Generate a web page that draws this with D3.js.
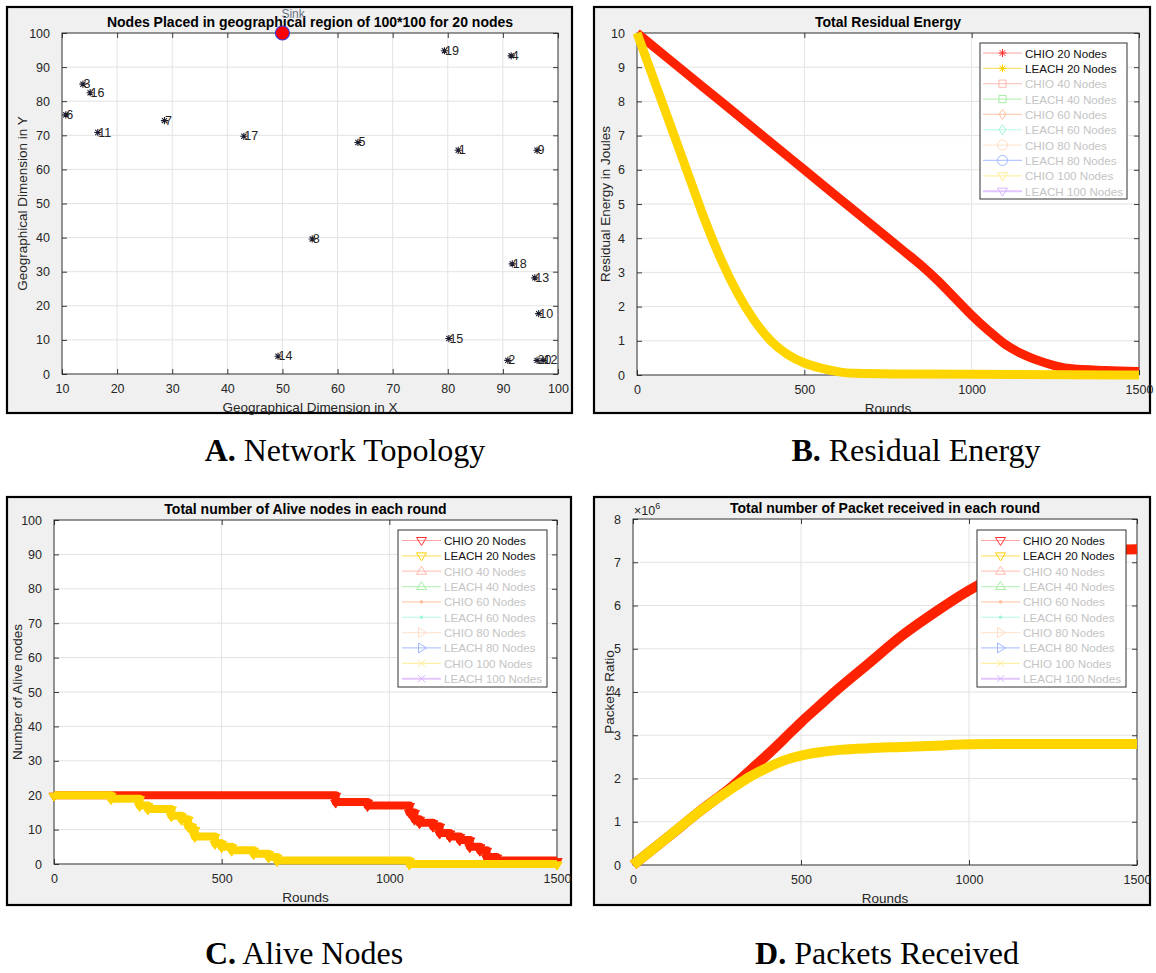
<!DOCTYPE html>
<html><head><meta charset="utf-8">
<script src="https://cdn.jsdelivr.net/npm/d3@7"></script>
<style>body{margin:0;background:#fff}svg{display:block}</style>
</head><body>
<svg id="fig" width="1156" height="973"></svg>
<script>
// ---------------- data ----------------
// Panel A: sensor node positions in the 100x100 field
const nodeIds = [1,2,3,4,5,6,7,8,9,10,11,12,13,14,15,16,17,18,19,20];
const nodeX = [81.9,90.9,13.8,91.5,63.7,10.7,28.6,55.4,96.2,96.5,16.5,97.3,95.8,49.2,80.2,15.1,43.0,91.7,79.4,96.2];
const nodeY = [65.6,4.0,85.0,93.3,67.9,76.0,74.3,39.6,65.6,17.7,70.8,4.0,28.2,5.2,10.4,82.5,69.7,32.3,94.8,4.0];
const sinkX = 50, sinkY = 100;

// Panel B: total residual energy (J) per round
const energyChioRounds = [0,100,200,300,400,500,600,700,800,850,900,950,1000,1050,1100,1150,1200,1250,1300,1400,1500];
const energyChio       = [10,9.2,8.4,7.6,6.8,6.0,5.2,4.4,3.6,3.2,2.75,2.25,1.75,1.3,0.9,0.62,0.42,0.27,0.18,0.13,0.1];
const energyLeachRounds = [0,50,100,150,200,250,300,350,400,450,500,550,600,650,800,1000,1500];
const energyLeach       = [10,8.65,7.3,5.95,4.6,3.4,2.4,1.6,1.0,0.6,0.35,0.2,0.1,0.05,0.03,0.02,0];

// Panel C: alive nodes per round (value holds until next round listed)
const aliveChioRounds = [0,840,935,1060,1075,1090,1130,1150,1180,1210,1240,1270,1290,1320,1500];
const aliveChio       = [20,18,17,15,13,12,11,9,8,7,5,4,2,1,1];
const aliveLeachRounds = [0,170,255,280,350,380,400,410,420,480,500,530,595,640,665,1060,1500];
const aliveLeach       = [20,19,17,16,14,13,11,10,8,6,5,4,3,2,1,0,0];

// Panel D: cumulative packets received (x 10^6)
const packetRounds = [0,100,200,300,350,400,450,500,550,600,700,800,900,1000,1100,1200,1300,1400,1500];
const packetsChio  = [0,0.62,1.25,1.85,2.2,2.55,2.92,3.3,3.65,4.0,4.65,5.3,5.85,6.35,6.75,7.0,7.18,7.27,7.3];
const packetsLeach = [0,0.62,1.25,1.8,2.05,2.25,2.42,2.53,2.6,2.65,2.7,2.73,2.76,2.79,2.8,2.8,2.8,2.8,2.8];

// Legends
const legendLabels = ["CHIO 20 Nodes","LEACH 20 Nodes","CHIO 40 Nodes","LEACH 40 Nodes","CHIO 60 Nodes",
  "LEACH 60 Nodes","CHIO 80 Nodes","LEACH 80 Nodes","CHIO 100 Nodes","LEACH 100 Nodes"];
const legendLineColors = ["#ffa3a3","#ffe372","#ffc9bf","#bff2bf","#ffcdb3","#b6fbe6","#ffe7d6","#b5c8ff","#fff0a8","#e3c6ff"];
const legendMarkColors = ["#ff3030","#ffd000","#ffb8ad","#a6eca6","#ffc09e","#9ff7dc","#ffdcc4","#9fb8ff","#ffea94","#d9b3ff"];
const energyMarkers = ["*","*","s","s","d","d","o","o","v","v"];
const nodeMarkers   = ["v","v","^","^",".",".",">",">","x","x"];

const xTicksRounds = [0,500,1000,1500];

// ---------------- drawing ----------------
const RED = "#ff2200", GOLD = "#ffd500";
const INK = "#262626";
const SANS = "'Liberation Sans', Arial, Helvetica, sans-serif";
const svg = d3.select("#fig");

function markerPath(t, r) {
  const k = r * 0.72;
  switch (t) {
    case "*": return `M${-r},0H${r}M0,${-r}V${r}M${-k},${-k}L${k},${k}M${-k},${k}L${k},${-k}`;
    case "x": return `M${-k},${-k}L${k},${k}M${-k},${k}L${k},${-k}`;
    case "s": return `M${-k},${-k}H${k}V${k}H${-k}Z`;
    case "d": return `M0,${-r}L${r*0.7},0L0,${r}L${-r*0.7},0Z`;
    case "o": return `M${r},0A${r},${r} 0 1 1 ${-r},0A${r},${r} 0 1 1 ${r},0Z`;
    case "v": return `M${-r},${-r*0.6}H${r}L0,${r}Z`;
    case "^": return `M${-r},${r*0.6}H${r}L0,${-r}Z`;
    case ">": return `M${-r*0.6},${-r}L${r},0L${-r*0.6},${r}Z`;
    case ".": return `M1.3,0A1.3,1.3 0 1 1 -1.3,0A1.3,1.3 0 1 1 1.3,0Z`;
  }
}

function panel(cfg) {
  const g = svg.append("g");
  const [fx, fy, fw, fh] = cfg.frame;
  const [l, t, r, b] = cfg.plot;
  g.append("rect").attr("x", fx).attr("y", fy).attr("width", fw).attr("height", fh)
    .attr("fill", "#f0f0f0").attr("stroke", "#000").attr("stroke-width", 2.2);
  g.append("rect").attr("x", l).attr("y", t).attr("width", r - l).attr("height", b - t).attr("fill", "#fff");

  const x = d3.scaleLinear().domain(cfg.xd).range([l, r]);
  const y = d3.scaleLinear().domain(cfg.yd).range([b, t]);

  // grid
  const grid = g.append("g").attr("stroke", "#e3e3e3").attr("stroke-width", 1);
  cfg.xt.forEach(v => grid.append("line").attr("x1", x(v)).attr("x2", x(v)).attr("y1", t).attr("y2", b));
  cfg.yt.forEach(v => grid.append("line").attr("x1", l).attr("x2", r).attr("y1", y(v)).attr("y2", y(v)));

  const styleAxis = sel => {
    sel.select(".domain").remove();
    sel.selectAll("line").attr("stroke", INK).attr("stroke-width", 0.9);
    sel.selectAll("text").attr("fill", INK).style("font-family", SANS).style("font-size", "12.5px");
  };
  g.append("g").attr("transform", `translate(0,${b})`)
    .call(d3.axisBottom(x).tickValues(cfg.xt).tickSize(-5).tickPadding(10).tickFormat(d3.format("d")))
    .call(styleAxis);
  g.append("g").attr("transform", `translate(0,${t})`)
    .call(d3.axisTop(x).tickValues(cfg.xt).tickSize(-5).tickFormat(""))
    .call(styleAxis);
  g.append("g").attr("transform", `translate(${l},0)`)
    .call(d3.axisLeft(y).tickValues(cfg.yt).tickSize(-5).tickPadding(12).tickFormat(d3.format("d")))
    .call(styleAxis);
  g.append("g").attr("transform", `translate(${r},0)`)
    .call(d3.axisRight(y).tickValues(cfg.yt).tickSize(-5).tickFormat(""))
    .call(styleAxis);

  g.append("text").attr("x", (l + r) / 2).attr("y", t - 6).attr("text-anchor", "middle")
    .style("font-family", SANS).style("font-size", "14px").style("font-weight", "bold").attr("fill", "#000")
    .text(cfg.title);
  g.append("text").attr("x", (l + r) / 2).attr("y", b + 38).attr("text-anchor", "middle")
    .style("font-family", SANS).style("font-size", "13.5px").attr("fill", INK).text(cfg.xLabel);
  g.append("text").attr("transform", `translate(${cfg.yLabelX},${(t + b) / 2}) rotate(-90)`)
    .attr("text-anchor", "middle").attr("dominant-baseline", "central")
    .style("font-family", SANS).style("font-size", "13.5px").attr("fill", INK).text(cfg.yLabel);

  const plotG = svg.append("g");
  g.append("rect").attr("x", l).attr("y", t).attr("width", r - l).attr("height", b - t)
    .attr("fill", "none").attr("stroke", INK).attr("stroke-width", 0.9);
  return { g: plotG, x, y };
}

function legend(box, rowX, rowY0, markers) {
  const [bx, by, bw, bh] = box;
  const g = svg.append("g");
  g.append("rect").attr("x", bx).attr("y", by).attr("width", bw).attr("height", bh)
    .attr("fill", "#fff").attr("stroke", "#333").attr("stroke-width", 1);
  const step = 15.35;
  legendLabels.forEach((lab, i) => {
    const yy = rowY0 + i * step;
    g.append("line").attr("x1", rowX).attr("x2", rowX + 39).attr("y1", yy).attr("y2", yy)
      .attr("stroke", legendLineColors[i]).attr("stroke-width", i === 9 ? 2 : 1.2);
    const m = markers[i];
    g.append("path").attr("d", markerPath(m, m === "*" ? 4 : 5))
      .attr("transform", `translate(${rowX + 19.5},${yy})`)
      .attr("fill", m === "." ? legendMarkColors[i] : "none")
      .attr("stroke", legendMarkColors[i]).attr("stroke-width", 1);
    g.append("text").attr("x", rowX + 42).attr("y", yy).attr("dominant-baseline", "central")
      .style("font-family", SANS).style("font-size", "11.6px")
      .attr("fill", i < 2 ? "#111" : "#c4c4c4").text(lab);
  });
}

function thickLine(g, x, y, xs, ys, color, width, curve) {
  const pts = xs.map((v, i) => [v, ys[i]]);
  g.append("path").datum(pts)
    .attr("d", d3.line().x(d => x(d[0])).y(d => y(d[1])).curve(curve))
    .attr("fill", "none").attr("stroke", color).attr("stroke-width", width)
    .attr("stroke-linejoin", "round");
  return pts;
}

// ---------- Panel A: network topology ----------
const A = panel({
  frame: [7, 7, 565, 406], plot: [62, 33, 558, 374],
  xd: [10, 100], yd: [0, 100], xt: d3.range(10, 101, 10), yt: d3.range(0, 101, 10),
  title: "Nodes Placed in geographical region of 100*100 for 20 nodes",
  xLabel: "Geographical Dimension in X", yLabel: "Geographical Dimension in Y", yLabelX: 22
});
nodeIds.forEach((id, i) => {
  const px = A.x(nodeX[i]), py = A.y(nodeY[i]);
  A.g.append("path").attr("d", markerPath("*", 3.6)).attr("transform", `translate(${px},${py})`)
    .attr("stroke", "#1c1c2e").attr("stroke-width", 1.1).attr("fill", "none");
  A.g.append("text").attr("x", px + 0.5).attr("y", py).attr("dominant-baseline", "central")
    .style("font-family", SANS).style("font-size", "12.5px").attr("fill", "#222").text(id);
});
A.g.append("text").attr("x", A.x(sinkX) - 1).attr("y", A.y(sinkY) - 15)
  .style("font-family", SANS).style("font-size", "12px").attr("fill", "#6a7488").text("Sink");
A.g.append("circle").attr("cx", A.x(sinkX)).attr("cy", A.y(sinkY)).attr("r", 7)
  .attr("fill", "#ff0000").attr("stroke", "#3b3bd6").attr("stroke-width", 1.2);

// ---------- Panel B: residual energy ----------
const B = panel({
  frame: [594, 7, 556, 406], plot: [637, 33, 1139, 375],
  xd: [0, 1500], yd: [0, 10], xt: xTicksRounds, yt: d3.range(0, 11, 1),
  title: "Total Residual Energy", xLabel: "Rounds", yLabel: "Residual Energy in Joules", yLabelX: 605
});
thickLine(B.g, B.x, B.y, energyChioRounds, energyChio, RED, 9, d3.curveMonotoneX);
thickLine(B.g, B.x, B.y, energyLeachRounds, energyLeach, GOLD, 9, d3.curveMonotoneX);
legend([980, 43, 147, 156], 983, 53, energyMarkers);

// ---------- Panel C: alive nodes ----------
const C = panel({
  frame: [7, 497, 564, 408], plot: [54, 520, 557, 864],
  xd: [0, 1500], yd: [0, 100], xt: xTicksRounds, yt: d3.range(0, 101, 10),
  title: "Total number of Alive nodes in each round", xLabel: "Rounds",
  yLabel: "Number of Alive nodes", yLabelX: 17
});
[[aliveChioRounds, aliveChio, RED], [aliveLeachRounds, aliveLeach, GOLD]].forEach(([xs, ys, col]) => {
  thickLine(C.g, C.x, C.y, xs, ys, col, 8, d3.curveStepAfter);
  xs.forEach((v, i) => {
    // markers at the corners of each step
    const pts = i > 0 ? [[v, ys[i - 1]], [v, ys[i]]] : [[v, ys[i]]];
    pts.forEach(p => C.g.append("path").attr("d", markerPath("v", 5))
      .attr("transform", `translate(${C.x(p[0])},${C.y(p[1]) + 1})`)
      .attr("fill", col).attr("stroke", col).attr("stroke-width", 1));
  });
});
legend([398, 530, 149, 157], 402, 540.5, nodeMarkers);

// ---------- Panel D: packets received ----------
const D = panel({
  frame: [594, 497, 556, 408], plot: [633, 519, 1137, 865],
  xd: [0, 1500], yd: [0, 8], xt: xTicksRounds, yt: d3.range(0, 9, 1),
  title: "Total number of Packet received in each round", xLabel: "Rounds",
  yLabel: "Packets Ratio", yLabelX: 609
});
thickLine(D.g, D.x, D.y, packetRounds, packetsChio, RED, 10, d3.curveMonotoneX);
thickLine(D.g, D.x, D.y, packetRounds, packetsLeach, GOLD, 10, d3.curveMonotoneX);
const expo = D.g.append("text").attr("x", 634).attr("y", 515)
  .style("font-family", SANS).style("font-size", "12.5px").attr("fill", INK);
expo.append("tspan").text("\u00d710");
expo.append("tspan").attr("dy", -6).style("font-size", "9px").text("6");
legend([977, 530, 149, 157], 981, 540.5, nodeMarkers);

// ---------- captions ----------
const captions = [
  { k: "A.", t: " Network Topology", x: 345, y: 461 },
  { k: "B.", t: " Residual Energy", x: 916, y: 461 },
  { k: "C.", t: " Alive Nodes", x: 304, y: 964 },
  { k: "D.", t: " Packets Received", x: 887, y: 964 }
];
captions.forEach(c => {
  const tx = svg.append("text").attr("x", c.x).attr("y", c.y).attr("text-anchor", "middle")
    .style("font-family", "'Liberation Serif', 'Times New Roman', serif").style("font-size", "32px").attr("fill", "#000");
  tx.append("tspan").style("font-weight", "bold").text(c.k);
  tx.append("tspan").text(c.t);
});
</script>
</body></html>
